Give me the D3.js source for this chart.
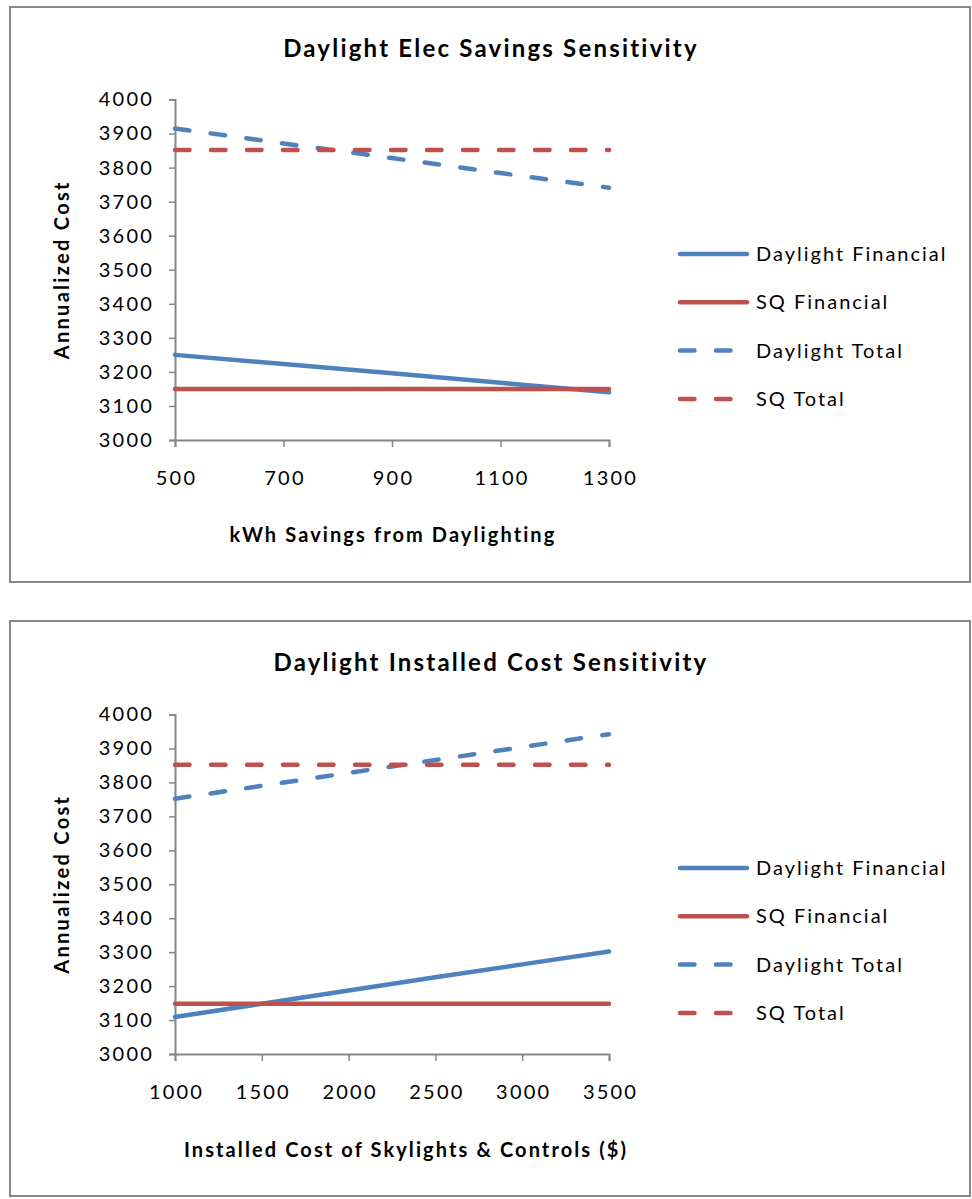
<!DOCTYPE html>
<html>
<head>
<meta charset="utf-8">
<script src="https://cdn.jsdelivr.net/npm/d3@7"></script>
<style>
  html, body { margin: 0; padding: 0; background: #ffffff; }
  svg { display: block; }
  text { font-family: Lato, "Open Sans", sans-serif; fill: #000; }
</style>
</head>
<body>
<svg id="chart" width="972" height="1199"></svg>
<script>
// ---- Data ----
const seriesNames = ["Daylight Financial", "SQ Financial", "Daylight Total", "SQ Total"];
const yTicks = [3000, 3100, 3200, 3300, 3400, 3500, 3600, 3700, 3800, 3900, 4000];

// Chart 1: kWh savings sensitivity
const elecTitle = "Daylight Elec Savings Sensitivity";
const elecXLabel = "kWh Savings from Daylighting";
const elecX = [500, 700, 900, 1100, 1300];
const elecDaylightFinancial = [3250, 3223, 3196, 3168, 3140];
const elecSQFinancial = [3150, 3150, 3150, 3150, 3150];
const elecDaylightTotal = [3915, 3871, 3828, 3784, 3741];
const elecSQTotal = [3852, 3852, 3852, 3852, 3852];

// Chart 2: installed cost sensitivity
const costTitle = "Daylight Installed Cost Sensitivity";
const costXLabel = "Installed Cost of Skylights & Controls ($)";
const costX = [1000, 1500, 2000, 2500, 3000, 3500];
const costDaylightFinancial = [3109, 3148, 3187, 3226, 3264, 3302];
const costSQFinancial = [3148, 3148, 3148, 3148, 3148, 3148];
const costDaylightTotal = [3752, 3790, 3828, 3866, 3904, 3942];
const costSQTotal = [3852, 3852, 3852, 3852, 3852, 3852];

// ---- Styles ----
const colors = ["#4F81BD", "#C0504D", "#4F81BD", "#C0504D"];
const dashed = [false, false, true, true];
const axisColor = "#868686";

const svg = d3.select("#chart");

function drawChart(cfg) {
  const g = svg.append("g");
  // outer frame
  g.append("rect")
    .attr("x", cfg.box.x).attr("y", cfg.box.y)
    .attr("width", cfg.box.w).attr("height", cfg.box.h)
    .attr("fill", "#fff").attr("stroke", "#878787").attr("stroke-width", 2);

  const x = d3.scaleLinear().domain([cfg.xs[0], cfg.xs[cfg.xs.length - 1]]).range([cfg.plot.x0, cfg.plot.x1]);
  const y = d3.scaleLinear().domain([3000, 4000]).range([cfg.plot.y1, cfg.plot.y0]);

  // title
  g.append("text")
    .attr("x", cfg.box.x + cfg.box.w / 2 + 1).attr("y", cfg.titleY)
    .attr("text-anchor", "middle")
    .style("font-size", "24px").style("font-weight", "bold")
    .style("letter-spacing", "2.2px")
    .text(cfg.title);

  // y axis
  const yAxis = g.append("g")
    .attr("transform", `translate(${cfg.plot.x0},0)`)
    .call(d3.axisLeft(y).tickValues(yTicks).tickSize(6).tickPadding(15).tickFormat(d3.format("d")));
  // x axis
  const xAxis = g.append("g")
    .attr("transform", `translate(0,${cfg.plot.y1})`)
    .call(d3.axisBottom(x).tickValues(cfg.xs).tickSize(7).tickPadding(24).tickFormat(d3.format("d")));
  [yAxis, xAxis].forEach(a => {
    a.select(".domain").attr("stroke", axisColor).attr("stroke-width", 2);
    a.selectAll(".tick line").attr("stroke", axisColor).attr("stroke-width", 1.5);
    a.selectAll(".tick text")
      .style("font-family", "Lato, sans-serif")
      .style("font-size", "20px").style("letter-spacing", "2.2px")
      .attr("fill", "#000");
  });
  xAxis.selectAll(".tick text").attr("dx", "1px");

  // axis titles
  g.append("text")
    .attr("transform", `translate(${cfg.yTitleX},${(cfg.plot.y0 + cfg.plot.y1) / 2}) rotate(-90)`)
    .attr("text-anchor", "middle").attr("dy", "0.35em")
    .style("font-size", "20px").style("font-weight", "bold")
    .style("letter-spacing", "2.3px")
    .text("Annualized Cost");
  g.append("text")
    .attr("x", cfg.xTitleX).attr("y", cfg.xTitleY)
    .attr("text-anchor", "middle").attr("dy", "0.35em")
    .style("font-size", "20px").style("font-weight", "bold")
    .style("letter-spacing", "2.1px")
    .text(cfg.xLabel);

  // lines
  const line = d3.line().x(d => x(d[0])).y(d => y(d[1]));
  [0, 1, 2, 3].forEach(i => {
    const pts = cfg.xs.map((xv, k) => [xv, cfg.series[i][k]]);
    g.append("path")
      .datum(pts)
      .attr("d", line)
      .attr("fill", "none")
      .attr("stroke", colors[i])
      .attr("stroke-width", 4.5)
      .attr("stroke-linecap", "round")
      .attr("stroke-dasharray", dashed[i] ? "14.5,21.5" : null);
  });

  // legend
  const leg = g.append("g");
  seriesNames.forEach((name, i) => {
    const ly = cfg.legendY + i * 48.3;
    leg.append("line")
      .attr("x1", cfg.legendX).attr("x2", cfg.legendX + 67)
      .attr("y1", ly).attr("y2", ly)
      .attr("stroke", colors[i]).attr("stroke-width", 4.5)
      .attr("stroke-linecap", "round")
      .attr("stroke-dasharray", dashed[i] ? "14.5,21.5" : null);
    leg.append("text")
      .attr("x", cfg.legendX + 76).attr("y", ly).attr("dy", "0.35em")
      .style("font-size", "20px").style("letter-spacing", "2px")
      .text(name);
  });
}

drawChart({
  box: { x: 10, y: 7, w: 960, h: 575 },
  plot: { x0: 175, x1: 609, y0: 99.5, y1: 440 },
  xs: elecX,
  series: [elecDaylightFinancial, elecSQFinancial, elecDaylightTotal, elecSQTotal],
  title: elecTitle, titleY: 57,
  xLabel: elecXLabel, xTitleX: 393, xTitleY: 535,
  yTitleX: 62,
  legendX: 680, legendY: 254
});

drawChart({
  box: { x: 10, y: 621, w: 960, h: 575 },
  plot: { x0: 175, x1: 609, y0: 714.5, y1: 1054 },
  xs: costX,
  series: [costDaylightFinancial, costSQFinancial, costDaylightTotal, costSQTotal],
  title: costTitle, titleY: 671,
  xLabel: costXLabel, xTitleX: 406, xTitleY: 1150,
  yTitleX: 62,
  legendX: 680, legendY: 868
});
</script>
</body>
</html>
